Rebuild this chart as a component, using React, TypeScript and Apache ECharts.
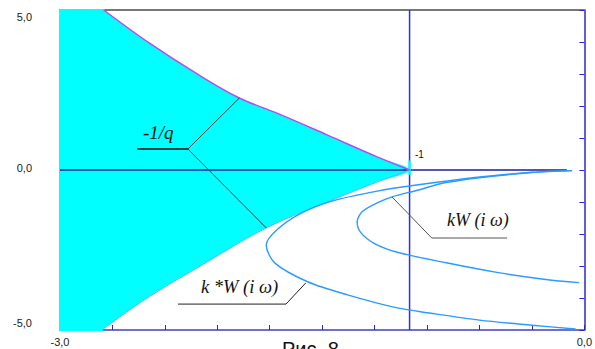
import React, { useEffect, useRef } from "react";
import * as echarts from "echarts";

// Axis extents (real part on x, imaginary part on y)
const xRange = [-3, 0];
const yRange = [-5, 5];
const xTickStep = 0.3;
const yTickStep = 1;

// -1/q locus: upper and lower edges of the shaded region, starting at the point -1
const qUpper: number[][] = [
  [-1.0, 0.0], [-1.185, 0.41], [-1.469, 1.09], [-1.752, 1.76], [-1.974, 2.25],
  [-2.206, 2.97], [-2.49, 3.97], [-2.75, 5.0],
];
const qLower: number[][] = [
  [-1.0, 0.0], [-1.185, -0.375], [-1.47, -1.0], [-1.82, -1.81], [-2.206, -3.03],
  [-2.49, -3.96], [-2.76, -5.0],
];

// Frequency response with critical gain k*
const kStarW: number[][] = [
  [-0.07, -0.02], [-0.3, -0.07], [-0.6, -0.22], [-0.96, -0.47], [-1.185, -0.66],
  [-1.45, -0.98], [-1.62, -1.35], [-1.76, -1.875], [-1.82, -2.34], [-1.77, -2.91],
  [-1.58, -3.5], [-1.355, -3.9], [-1.07, -4.31], [-0.885, -4.47], [-0.6, -4.69],
  [-0.3, -4.85], [-0.05, -4.97],
];

// Frequency response with gain k
const kW: number[][] = [
  [-0.07, -0.02], [-0.3, -0.08], [-0.6, -0.24], [-0.8, -0.4], [-0.96, -0.64],
  [-1.1, -0.84], [-1.185, -1.03], [-1.27, -1.3], [-1.3, -1.62], [-1.28, -1.95],
  [-1.2, -2.3], [-1.07, -2.57], [-0.79, -2.9], [-0.5, -3.2], [-0.22, -3.42],
  [-0.03, -3.52],
];

// Reference lines through the critical point
const realAxisLine: number[][] = [[-3, 0], [-0.1, 0]];
const criticalVertical: number[][] = [[-1, -5], [-1, 5]];
const criticalTip: number[][] = [[-1, 0.3], [-1, -0.15]];

// Leader lines for the curve captions
const leaderQ: number[][] = [[-1.974, 2.25], [-2.268, 0.656], [-1.82, -1.81]];
const leaderQUnder: number[][] = [[-2.558, 0.656], [-2.268, 0.656]];
const leaderKStar: number[][] = [[-2.325, -4.19], [-1.707, -4.19], [-1.594, -3.53]];
const leaderK: number[][] = [[-1.1, -0.844], [-0.873, -2.125], [-0.442, -2.125]];

const fmt = (v: number) => v.toFixed(1).replace(".", ",");
const EDGE_SMOOTH = 0.35;

function plainLine(data: number[][], color: string, width: number, z = 3) {
  return {
    type: "line",
    data,
    showSymbol: false,
    symbol: "none",
    silent: true,
    z,
    lineStyle: { color, width },
  };
}

export default function App() {
  const ref = useRef<HTMLDivElement>(null);

  useEffect(() => {
    if (!ref.current) return;
    const chart = echarts.init(ref.current, undefined, { renderer: "svg" });

    // boundary of the -1/q region, traced from its top end down to its bottom end
    const qBoundary = [...qUpper.slice().reverse(), ...qLower.slice(1)];
    const topEnd = qUpper[qUpper.length - 1];
    const bottomEnd = qLower[qLower.length - 1];
    // strip between the left axis and the chord joining the two ends of the locus
    const leftStrip = [
      [xRange[0], yRange[1]],
      topEnd,
      bottomEnd,
      [xRange[0], yRange[0]],
    ];

    const serif = "'Liberation Serif', 'Times New Roman', serif";
    const sans = "'Liberation Sans', Arial, sans-serif";

    chart.setOption({
      animation: false,
      backgroundColor: "#ffffff",
      grid: { left: 60, right: 6, top: 10, bottom: 19 },
      xAxis: [
        {
          type: "value",
          min: xRange[0],
          max: xRange[1],
          interval: xTickStep,
          position: "bottom",
          splitLine: { show: false },
          axisLine: { onZero: false, lineStyle: { color: "#7070cc", width: 2 } },
          axisTick: { inside: true, length: 5, lineStyle: { color: "#2a2ab0", width: 1 } },
          axisLabel: {
            margin: 6,
            fontSize: 11,
            color: "#222",
            fontFamily: sans,
            formatter: (v: number) =>
              Math.abs(v - xRange[0]) < 1e-6 || Math.abs(v - xRange[1]) < 1e-6 ? fmt(v) : "",
          },
        },
        {
          type: "value",
          min: xRange[0],
          max: xRange[1],
          position: "top",
          splitLine: { show: false },
          axisLine: { onZero: false, lineStyle: { color: "#777777", width: 2 } },
          axisTick: { show: false },
          axisLabel: { show: false },
        },
      ],
      yAxis: [
        {
          type: "value",
          min: yRange[0],
          max: yRange[1],
          interval: yTickStep,
          position: "left",
          splitLine: { show: false },
          axisLine: { onZero: false, lineStyle: { color: "#1a1aa0", width: 1.5 } },
          axisTick: { inside: true, length: 6, lineStyle: { color: "#1a1aa0", width: 1 } },
          axisLabel: {
            margin: 28,
            fontSize: 11,
            color: "#222",
            fontFamily: sans,
            formatter: (v: number) => {
              if (Math.abs(v - yRange[1]) < 1e-6) return "{t|" + fmt(v) + "}";
              if (Math.abs(v - yRange[0]) < 1e-6) return "{b|" + fmt(v) + "}";
              if (Math.abs(v) < 1e-6) return "{m|" + fmt(v) + "}";
              return "";
            },
            rich: {
              t: { padding: [14, 0, 0, 0], fontSize: 11, fontFamily: sans, color: "#222" },
              b: { padding: [0, 0, 14, 0], fontSize: 11, fontFamily: sans, color: "#222" },
              m: { padding: [0, 0, 4, 0], fontSize: 11, fontFamily: sans, color: "#222" },
            },
          },
        },
        {
          type: "value",
          min: yRange[0],
          max: yRange[1],
          interval: yTickStep,
          position: "right",
          splitLine: { show: false },
          axisLine: { onZero: false, lineStyle: { color: "#2a2ad0", width: 1.5 } },
          axisTick: { inside: true, length: 5, lineStyle: { color: "#2a2ad0", width: 1 } },
          axisLabel: { show: false },
        },
      ],
      series: [
        {
          // shaded -1/q region
          type: "custom",
          silent: true,
          z: 1,
          data: qBoundary,
          renderItem: (params: any, api: any) => {
            if (params.dataIndex !== 0) return null;
            return {
              type: "group",
              children: [
                {
                  type: "polyline",
                  shape: { points: qBoundary.map((p) => api.coord(p)), smooth: EDGE_SMOOTH },
                  style: { fill: "#00ffff", stroke: "none" },
                },
                {
                  type: "polygon",
                  shape: { points: leftStrip.map((p) => api.coord(p)) },
                  style: { fill: "#00ffff", stroke: "#00ffff", lineWidth: 2 },
                },
              ],
            };
          },
        },
        plainLine(realAxisLine, "#1c1ca0", 1.5, 2),
        plainLine(criticalVertical, "#3030e0", 1.5, 2),
        plainLine(criticalTip, "#00ffff", 2.5, 3),
        {
          // outline of the -1/q region
          type: "custom",
          silent: true,
          z: 4,
          data: qBoundary,
          renderItem: (params: any, api: any) => {
            if (params.dataIndex !== 0) return null;
            return {
              type: "group",
              children: [
                {
                  type: "polyline",
                  shape: { points: qLower.map((p) => api.coord(p)), smooth: EDGE_SMOOTH },
                  style: { fill: "none", stroke: "#55b8ff", lineWidth: 1 },
                },
                {
                  type: "polyline",
                  shape: { points: qUpper.map((p) => api.coord(p)), smooth: EDGE_SMOOTH },
                  style: { fill: "none", stroke: "#b44cf5", lineWidth: 1.5 },
                },
              ],
            };
          },
        },
        { ...plainLine(kStarW, "#2b9bff", 1.4, 5), smooth: 0.3 },
        { ...plainLine(kW, "#2b9bff", 1.4, 5), smooth: 0.3 },
        plainLine(leaderQ, "#1f3f3f", 1, 6),
        plainLine(leaderQUnder, "#111111", 1.3, 6),
        plainLine(leaderKStar, "#222222", 1, 6),
        plainLine(leaderK, "#555555", 1, 6),
      ],
      graphic: [
        {
          type: "text",
          left: 143,
          top: 123,
          z: 10,
          style: { text: "-1/q", fontSize: 19, fontStyle: "italic", fontFamily: serif, fill: "#111" },
        },
        {
          type: "text",
          left: 201,
          top: 277,
          z: 10,
          style: { text: "k *W (i ω)", fontSize: 18.5, fontStyle: "italic", fontFamily: serif, fill: "#111" },
        },
        {
          type: "text",
          left: 447,
          top: 211,
          z: 10,
          style: { text: "kW (i ω)", fontSize: 18, fontStyle: "italic", fontFamily: serif, fill: "#111" },
        },
        {
          type: "text",
          left: 415,
          top: 149,
          z: 10,
          style: { text: "-1", fontSize: 10, fontFamily: sans, fill: "#111" },
        },
        {
          type: "text",
          left: 282,
          top: 339,
          z: 10,
          style: { text: "Рис. 8", fontSize: 20, fontFamily: sans, fill: "#111" },
        },
      ],
    });

    return () => chart.dispose();
  }, []);

  return (
    <div
      ref={ref}
      style={{ position: "absolute", left: 0, top: 0, width: 595, height: 349 }}
    />
  );
}
